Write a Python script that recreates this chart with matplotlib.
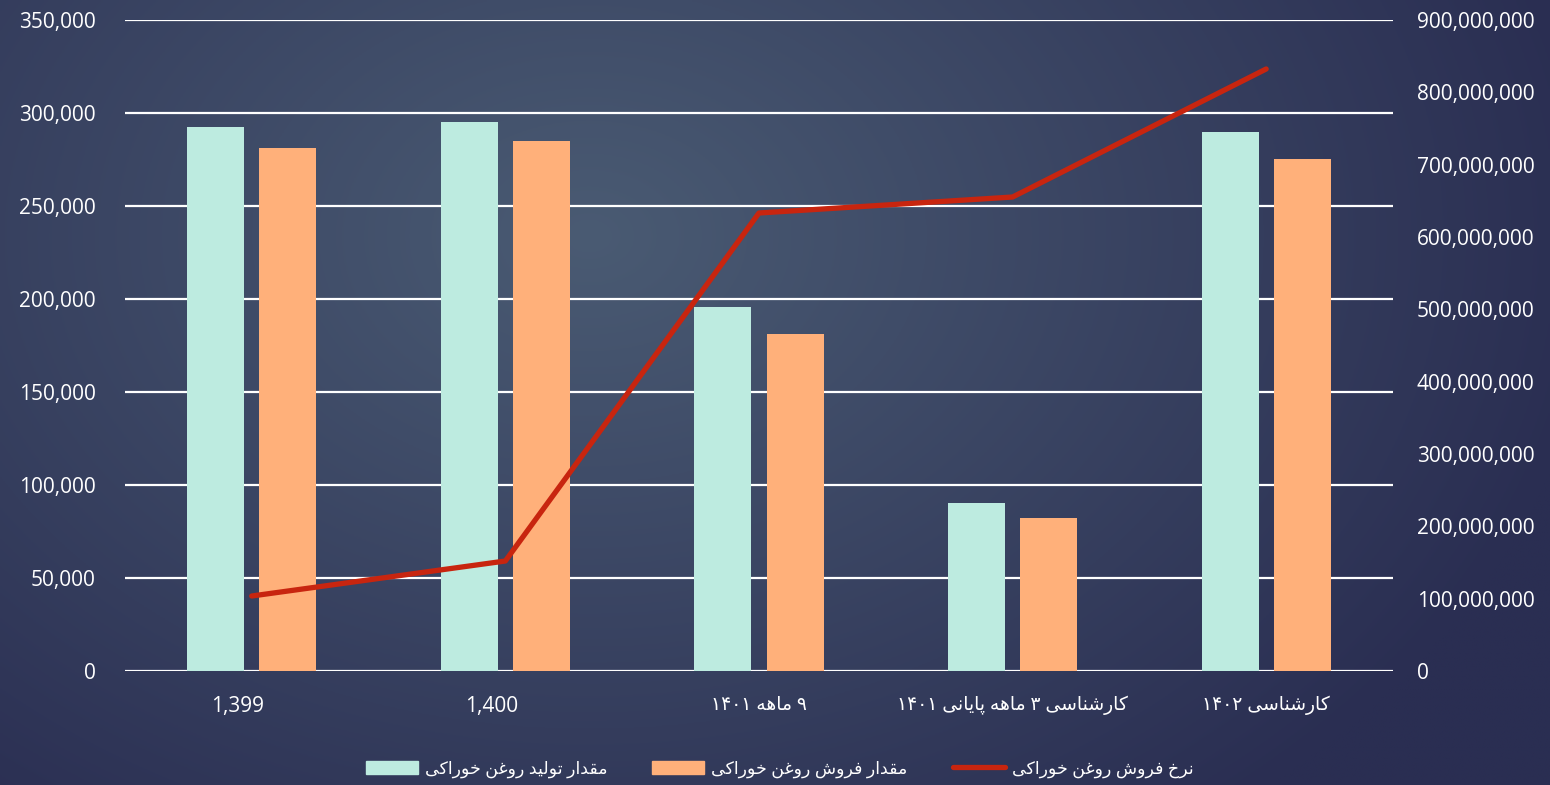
import numpy as np
import matplotlib
matplotlib.use("Agg")
import matplotlib.pyplot as plt
import matplotlib.transforms as mtransforms
from matplotlib.ticker import FuncFormatter, MultipleLocator
from matplotlib.patches import Patch
from matplotlib.lines import Line2D

### data
categories = ["1,399", "1,400", "۹ ماهه ۱۴۰۱", "کارشناسی ۳ ماهه پایانی ۱۴۰۱", "کارشناسی ۱۴۰۲"]
production = [292500, 295200, 195700, 90300, 289800]
sales = [281200, 285000, 181200, 82300, 275300]
price = [103700000, 152100000, 633200000, 655300000, 832300000]
legend_labels = ["مقدار تولید روغن خوراکی", "مقدار فروش روغن خوراکی", "نرخ فروش روغن خوراکی"]

### simple persian shaping (matplotlib does no shaping / bidi)
forms = {
    "ا": ("\uFE8D", "\uFE8E", None, None),
    "پ": ("\uFB56", "\uFB57", "\uFB58", "\uFB59"),
    "ت": ("\uFE95", "\uFE96", "\uFE97", "\uFE98"),
    "خ": ("\uFEA5", "\uFEA6", "\uFEA7", "\uFEA8"),
    "د": ("\uFEA9", "\uFEAA", None, None),
    "ر": ("\uFEAD", "\uFEAE", None, None),
    "س": ("\uFEB1", "\uFEB2", "\uFEB3", "\uFEB4"),
    "ش": ("\uFEB5", "\uFEB6", "\uFEB7", "\uFEB8"),
    "غ": ("\uFECD", "\uFECE", "\uFECF", "\uFED0"),
    "ف": ("\uFED1", "\uFED2", "\uFED3", "\uFED4"),
    "ق": ("\uFED5", "\uFED6", "\uFED7", "\uFED8"),
    "ک": ("\uFB8E", "\uFB8F", "\uFB90", "\uFB91"),
    "ل": ("\uFEDD", "\uFEDE", "\uFEDF", "\uFEE0"),
    "م": ("\uFEE1", "\uFEE2", "\uFEE3", "\uFEE4"),
    "ن": ("\uFEE5", "\uFEE6", "\uFEE7", "\uFEE8"),
    "و": ("\uFEED", "\uFEEE", None, None),
    "ه": ("\uFEE9", "\uFEEA", "\uFEEB", "\uFEEC"),
    "ی": ("\uFBFC", "\uFBFD", "\uFBFE", "\uFBFF"),
}


def dual(c):
    return c in forms and forms[c][2] is not None


def shape_word(w):
    out = []
    for i, c in enumerate(w):
        if c not in forms:
            out.append(c)
            continue
        prev = i > 0 and dual(w[i - 1])
        nxt = dual(c) and i < len(w) - 1 and w[i + 1] in forms
        if prev and nxt:
            out.append(forms[c][3])
        elif prev:
            out.append(forms[c][1])
        elif nxt:
            out.append(forms[c][2])
        else:
            out.append(forms[c][0])
    return "".join(out[::-1])


def is_fa(s):
    return any(ch in forms or "\u06F0" <= ch <= "\u06F9" for ch in s)


def fa(s):
    if not is_fa(s):
        return s
    res = []
    for w in s.split(" "):
        if any(ch in forms for ch in w):
            res.append(shape_word(w))
        else:
            res.append(w)
    return " ".join(res[::-1])


plt.rcParams["font.family"] = ["Open Sans", "DejaVu Sans"]
txt = "#FFFFFF"

fig = plt.figure(figsize=(15.5, 7.85), dpi=100)

### background gradient
bg = fig.add_axes([0, 0, 1, 1])
yy, xx = np.mgrid[0:1:300j, 0:1:600j]
d = np.sqrt(((xx - 0.38) * 1.3) ** 2 + ((yy - 0.3) * 0.9) ** 2)
d = np.clip(d / 0.85, 0, 1)
c0 = np.array([0x4A, 0x5B, 0x73]) / 255
c1 = np.array([0x2A, 0x2E, 0x52]) / 255
img = c0[None, None, :] * (1 - d[..., None]) + c1[None, None, :] * d[..., None]
bg.imshow(img, aspect="auto", extent=[0, 1, 0, 1], origin="upper")
bg.axis("off")

ax1 = fig.add_axes([0.0806, 0.1452, 0.8181, 0.8293])
ax1.patch.set_alpha(0)
x = np.arange(len(categories))
w = 0.225
ax1.bar(x - 0.1425, production, w, color="#BDEBE0", zorder=3)
ax1.bar(x + 0.1425, sales, w, color="#FFB07A", zorder=3)
ax1.set_xlim(-0.5, len(categories) - 0.5)
ax1.set_ylim(0, 350000)
ax1.yaxis.set_major_locator(MultipleLocator(50000))
ax1.yaxis.set_major_formatter(FuncFormatter(lambda v, p: f"{int(v):,}"))
ax1.grid(axis="y", color="white", linewidth=1.6, zorder=1)
ax1.set_axisbelow(True)
for s in ax1.spines.values():
    s.set_visible(False)
ax1.tick_params(axis="y", length=0, pad=21, labelsize=15, labelcolor=txt)
ax1.tick_params(axis="x", length=0, pad=18, labelsize=15, labelcolor=txt)
ax1.set_xticks(x)
ax1.set_xticklabels([fa(c) for c in categories])
# numeric labels sit a little left of the group centre in the original
shift = mtransforms.ScaledTranslation(-0.14, 0, fig.dpi_scale_trans)
for lab, c in zip(ax1.get_xticklabels(), categories):
    if is_fa(c):
        lab.set_fontsize(13.5)
    else:
        lab.set_transform(lab.get_transform() + shift)

ax2 = ax1.twinx()
ax2.plot(x, price, color="#C8250F", linewidth=3.8, solid_capstyle="round", solid_joinstyle="round", zorder=4)
ax2.set_ylim(0, 900000000)
ax2.yaxis.set_major_locator(MultipleLocator(100000000))
ax2.yaxis.set_major_formatter(FuncFormatter(lambda v, p: f"{int(v):,}"))
for s in ax2.spines.values():
    s.set_visible(False)
ax2.tick_params(axis="y", length=0, pad=17, labelsize=15, labelcolor=txt)

handles = [Patch(color="#BDEBE0"), Patch(color="#FFB07A"),
           Line2D([0], [0], color="#C8250F", linewidth=3.8, solid_capstyle="round")]
leg = fig.legend(handles, [fa(l) for l in legend_labels], loc="center", bbox_to_anchor=(0.503, 0.02),
                 ncol=3, frameon=False, fontsize=12.5, labelcolor=txt, handlelength=3.0, handleheight=0.75,
                 columnspacing=2.6, handletextpad=0.4)

fig.savefig("out.png", dpi=100)
